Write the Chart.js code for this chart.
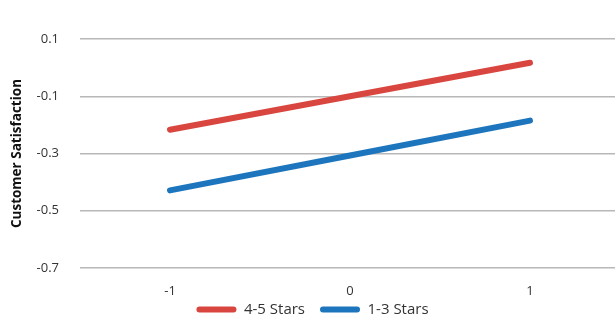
<!DOCTYPE html>
<html>
<head>
<meta charset="utf-8">
<script src="https://cdn.jsdelivr.net/npm/chart.js@4"></script>
<style>
html,body{margin:0;padding:0;background:#fff;overflow:hidden;}
#wrap{width:620px;height:320px;position:relative;}
</style>
</head>
<body>
<div id="wrap"><canvas id="c"></canvas></div>
<script>
const categories = ['-1', '0', '1'];
const highStars = [-0.217, -0.100, 0.017];
const lowStars = [-0.429, -0.307, -0.185];
const seriesNames = ['4-5 Stars', '1-3 Stars'];
const yTickValues = [-0.7, -0.5, -0.3, -0.1, 0.1];
const yTickLabels = ['-0.7', '-0.5', '-0.3', '-0.1', '0.1'];
const yTitle = 'Customer Satisfaction';

const RED = '#d8463f';
const BLUE = '#1d76bd';

const legendNudge = {
  id: 'legendNudge',
  afterLayout(chart) {
    const l = chart.legend;
    if (l) { l.top -= 12; l.bottom -= 12; }
  }
};

new Chart(document.getElementById('c'), {
  type: 'line',
  plugins: [legendNudge],
  data: {
    labels: categories,
    datasets: [
      { label: seriesNames[0], data: highStars, borderColor: RED, backgroundColor: RED,
        borderWidth: 6, pointRadius: 0, borderCapStyle: 'round', tension: 0 },
      { label: seriesNames[1], data: lowStars, borderColor: BLUE, backgroundColor: BLUE,
        borderWidth: 6, pointRadius: 0, borderCapStyle: 'round', tension: 0 }
    ]
  },
  options: {
    responsive: true,
    maintainAspectRatio: false,
    animation: false,
    layout: { padding: { top: 39, left: 5, right: 0, bottom: -19 } },
    scales: {
      x: {
        offset: true,
        afterFit: (s) => { s.height = 31; },
        grid: { display: false, drawTicks: false },
        border: { display: false },
        ticks: { color: '#333', font: { family: 'Open Sans', size: 13 }, padding: 15 }
      },
      y: {
        min: -0.7, max: 0.1,
        afterFit: (s) => { s.width = 75; },
        afterBuildTicks: (axis) => { axis.ticks = yTickValues.map(v => ({ value: v })); },
        grid: { color: '#b8b8b8', lineWidth: 1.5, drawTicks: false },
        border: { display: false },
        ticks: {
          color: '#333', font: { family: 'Open Sans', size: 13 }, padding: 21,
          callback: (v) => { const i = yTickValues.findIndex(t => Math.abs(t - v) < 1e-9); return i >= 0 ? yTickLabels[i] : ''; }
        },
        title: { display: true, text: yTitle, color: '#111', font: { family: 'Open Sans', size: 13.5, weight: 'bold' }, padding: { top: 4, bottom: 0 } }
      }
    },
    plugins: {
      legend: {
        position: 'bottom',
        labels: {
          boxWidth: 40, boxHeight: 6, padding: 15,
          color: '#333', font: { family: 'Open Sans', size: 15 },
          useBorderRadius: true, borderRadius: 3,
          generateLabels: (chart) => chart.data.datasets.map((d, i) => ({
            text: d.label, fillStyle: d.borderColor, strokeStyle: d.borderColor,
            lineWidth: 0, hidden: false, datasetIndex: i, fontColor: '#333', borderRadius: 3
          }))
        }
      },
      tooltip: { enabled: false }
    }
  }
});
</script>
</body>
</html>
